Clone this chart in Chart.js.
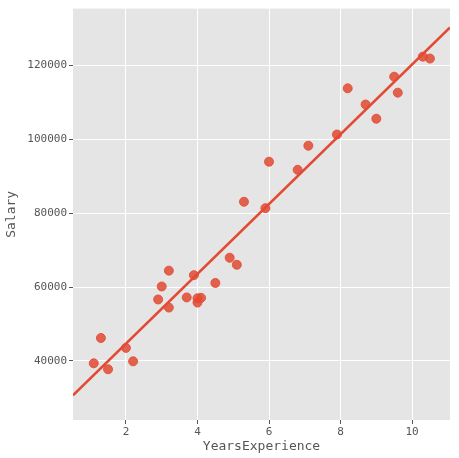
<!DOCTYPE html>
<html><head><meta charset="utf-8">
<script src="https://cdn.jsdelivr.net/npm/chart.js@4"></script>
<style>html,body{margin:0;padding:0;background:#fff}#w{width:459px;height:458px}</style>
</head><body><div id="w"><canvas id="c"></canvas></div>
<script>
const years=[1.1,1.3,1.5,2.0,2.2,2.9,3.0,3.2,3.2,3.7,3.9,4.0,4.0,4.1,4.5,4.9,5.1,5.3,5.9,6.0,6.8,7.1,7.9,8.2,8.7,9.0,9.5,9.6,10.3,10.5];
const salary=[39343,46205,37731,43525,39891,56642,60150,54445,64445,57189,63218,55794,56957,57081,61111,67938,66029,83088,81363,93940,91738,98273,101302,113812,109431,105582,116969,112635,122391,121872];
const xRange=[0.52,11.06];
const yRange=[24000,135400];
const n=years.length;
const mx=years.reduce((a,b)=>a+b)/n,my=salary.reduce((a,b)=>a+b)/n;
let sxy=0,sxx=0;for(let i=0;i<n;i++){sxy+=(years[i]-mx)*(salary[i]-my);sxx+=(years[i]-mx)**2;}
const slope=sxy/sxx,icpt=my-slope*mx;
const fit=xRange.map(x=>({x,y:icpt+slope*x}));
const bg={id:'bg',beforeDraw(c){const a=c.chartArea,ctx=c.ctx;ctx.save();ctx.fillStyle='#E5E5E5';ctx.fillRect(a.left,a.top,a.right-a.left,a.bottom-a.top);ctx.restore();}};
const F='"DejaVu Sans Mono", monospace';
new Chart(document.getElementById('c'),{
type:'scatter',
data:{datasets:[
{data:years.map((x,i)=>({x,y:salary[i]})),backgroundColor:'rgba(226,74,51,0.85)',borderColor:'rgba(226,74,51,0.85)',pointRadius:4.5,order:2},
{type:'line',data:fit,borderColor:'#E24A33',borderWidth:2.5,pointRadius:0,order:1}
]},
options:{responsive:true,maintainAspectRatio:false,animation:false,
layout:{padding:{top:8,right:9,left:0,bottom:0}},
plugins:{legend:{display:false},tooltip:{enabled:false}},
scales:{
x:{type:'linear',min:xRange[0],max:xRange[1],afterBuildTicks(s){s.ticks=[2,4,6,8,10].map(v=>({value:v}));},
afterFit(s){s.height=38;},
grid:{color:'#fff',lineWidth:1,drawTicks:true,tickLength:4,tickColor:'#555'},border:{display:false},
ticks:{color:'#555',font:{family:F,size:11},padding:2},
title:{display:true,text:'YearsExperience',color:'#555',font:{family:F,size:13},padding:{top:0}}},
y:{type:'linear',min:yRange[0],max:yRange[1],afterBuildTicks(s){s.ticks=[40000,60000,80000,100000,120000].map(v=>({value:v}));},
afterFit(s){s.width=73;},
grid:{color:'#fff',lineWidth:1,tickLength:4,tickColor:'#555'},border:{display:false},
ticks:{color:'#555',font:{family:F,size:11},padding:2,callback:v=>String(v)},
title:{display:true,text:'Salary',color:'#555',font:{family:F,size:13}}}
}},plugins:[bg]});
</script></body></html>
